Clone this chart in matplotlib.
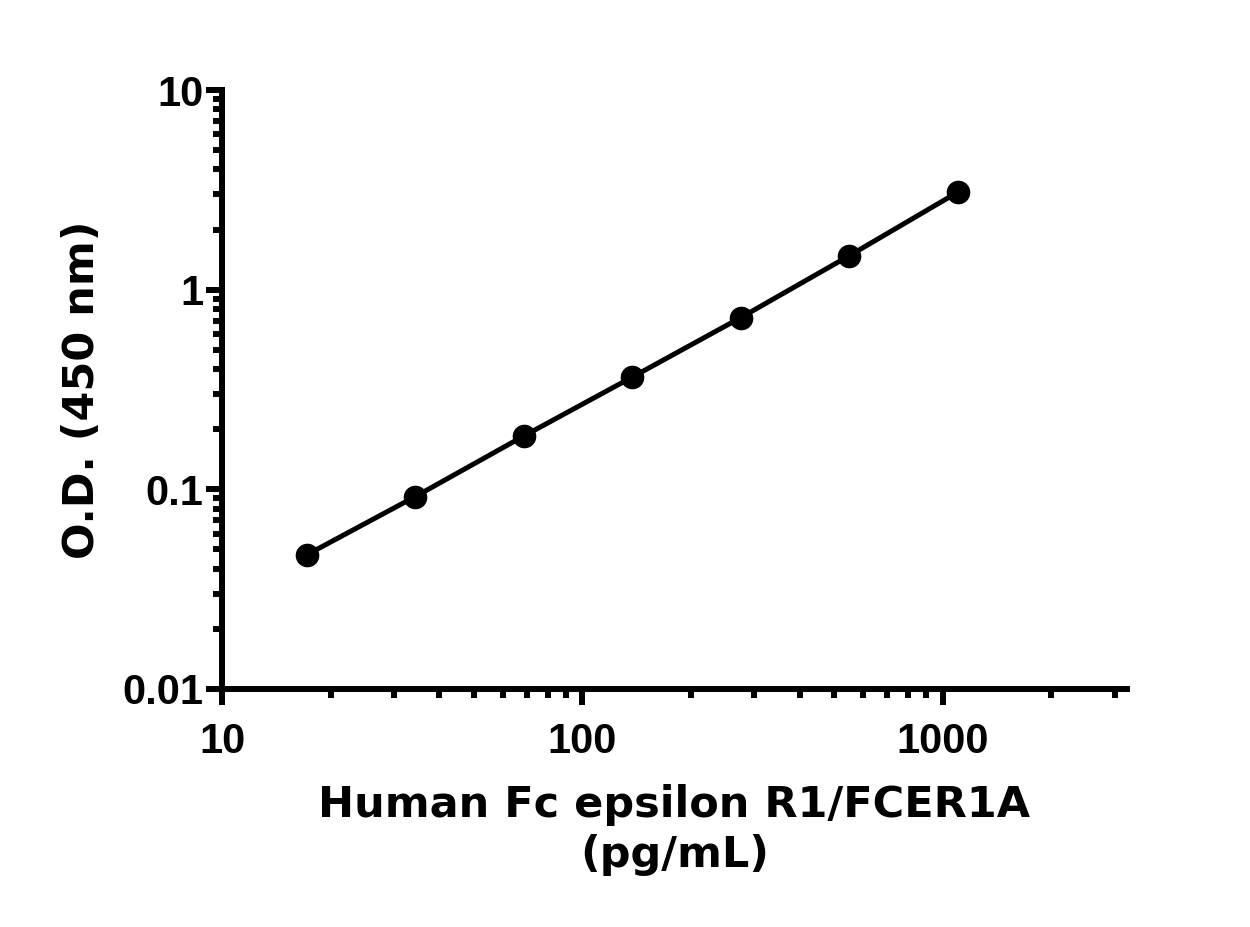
import matplotlib

matplotlib.use("Agg")
import matplotlib.pyplot as plt
from matplotlib.ticker import LogLocator, FixedLocator, NullFormatter

conc = [17.19, 34.38, 68.75, 137.5, 275.0, 550.0, 1100.0]
od = [0.047, 0.092, 0.185, 0.365, 0.725, 1.48, 3.08]

x_ticks = [10, 100, 1000]
x_tick_labels = ["10", "100", "1000"]
y_ticks = [0.01, 0.1, 1, 10]
y_tick_labels = ["0.01", "0.1", "1", "10"]

tick_font = ["Liberation Sans Narrow", "Liberation Sans", "DejaVu Sans"]
label_font = ["DejaVu Sans"]

fig = plt.figure(figsize=(12.5, 9.27), dpi=100)
ax = fig.add_axes([222 / 1250, 1 - 689 / 927, (1127 - 222) / 1250, (689 - 90) / 927])

ax.plot(conc, od, color="black", linewidth=3.6, marker="o", markersize=16,
        clip_on=False, zorder=3)

ax.set_xscale("log")
ax.set_yscale("log")
ax.set_xlim(10, 3240)
ax.set_ylim(0.01, 10)

for side in ("top", "right"):
    ax.spines[side].set_visible(False)
for side in ("left", "bottom"):
    ax.spines[side].set_linewidth(4.3)
    ax.spines[side].set_capstyle("projecting")

ax.xaxis.set_major_locator(FixedLocator(x_ticks))
ax.set_xticklabels(x_tick_labels)
ax.yaxis.set_major_locator(FixedLocator(y_ticks))
ax.set_yticklabels(y_tick_labels)
ax.xaxis.set_minor_locator(LogLocator(base=10, subs=range(2, 10), numticks=20))
ax.yaxis.set_minor_locator(LogLocator(base=10, subs=range(2, 10), numticks=20))
ax.xaxis.set_minor_formatter(NullFormatter())
ax.yaxis.set_minor_formatter(NullFormatter())

ax.tick_params(which="major", direction="out", length=11.5, width=4.3)
ax.tick_params(which="minor", direction="out", length=6.5, width=4.3)
ax.tick_params(axis="x", which="major", pad=12)
ax.tick_params(axis="y", which="major", pad=2)

for lab in ax.get_xticklabels() + ax.get_yticklabels():
    lab.set_family(tick_font)
    lab.set_fontweight("bold")
    lab.set_fontsize(30)

ax.set_xlabel("Human Fc epsilon R1/FCER1A\n(pg/mL)", family=label_font,
              fontweight="bold", fontsize=31, linespacing=1.25, labelpad=16)
ax.set_ylabel("O.D. (450 nm)", family=label_font, fontweight="bold",
              fontsize=31, labelpad=14)

fig.savefig("out.png", dpi=100, facecolor="white")
